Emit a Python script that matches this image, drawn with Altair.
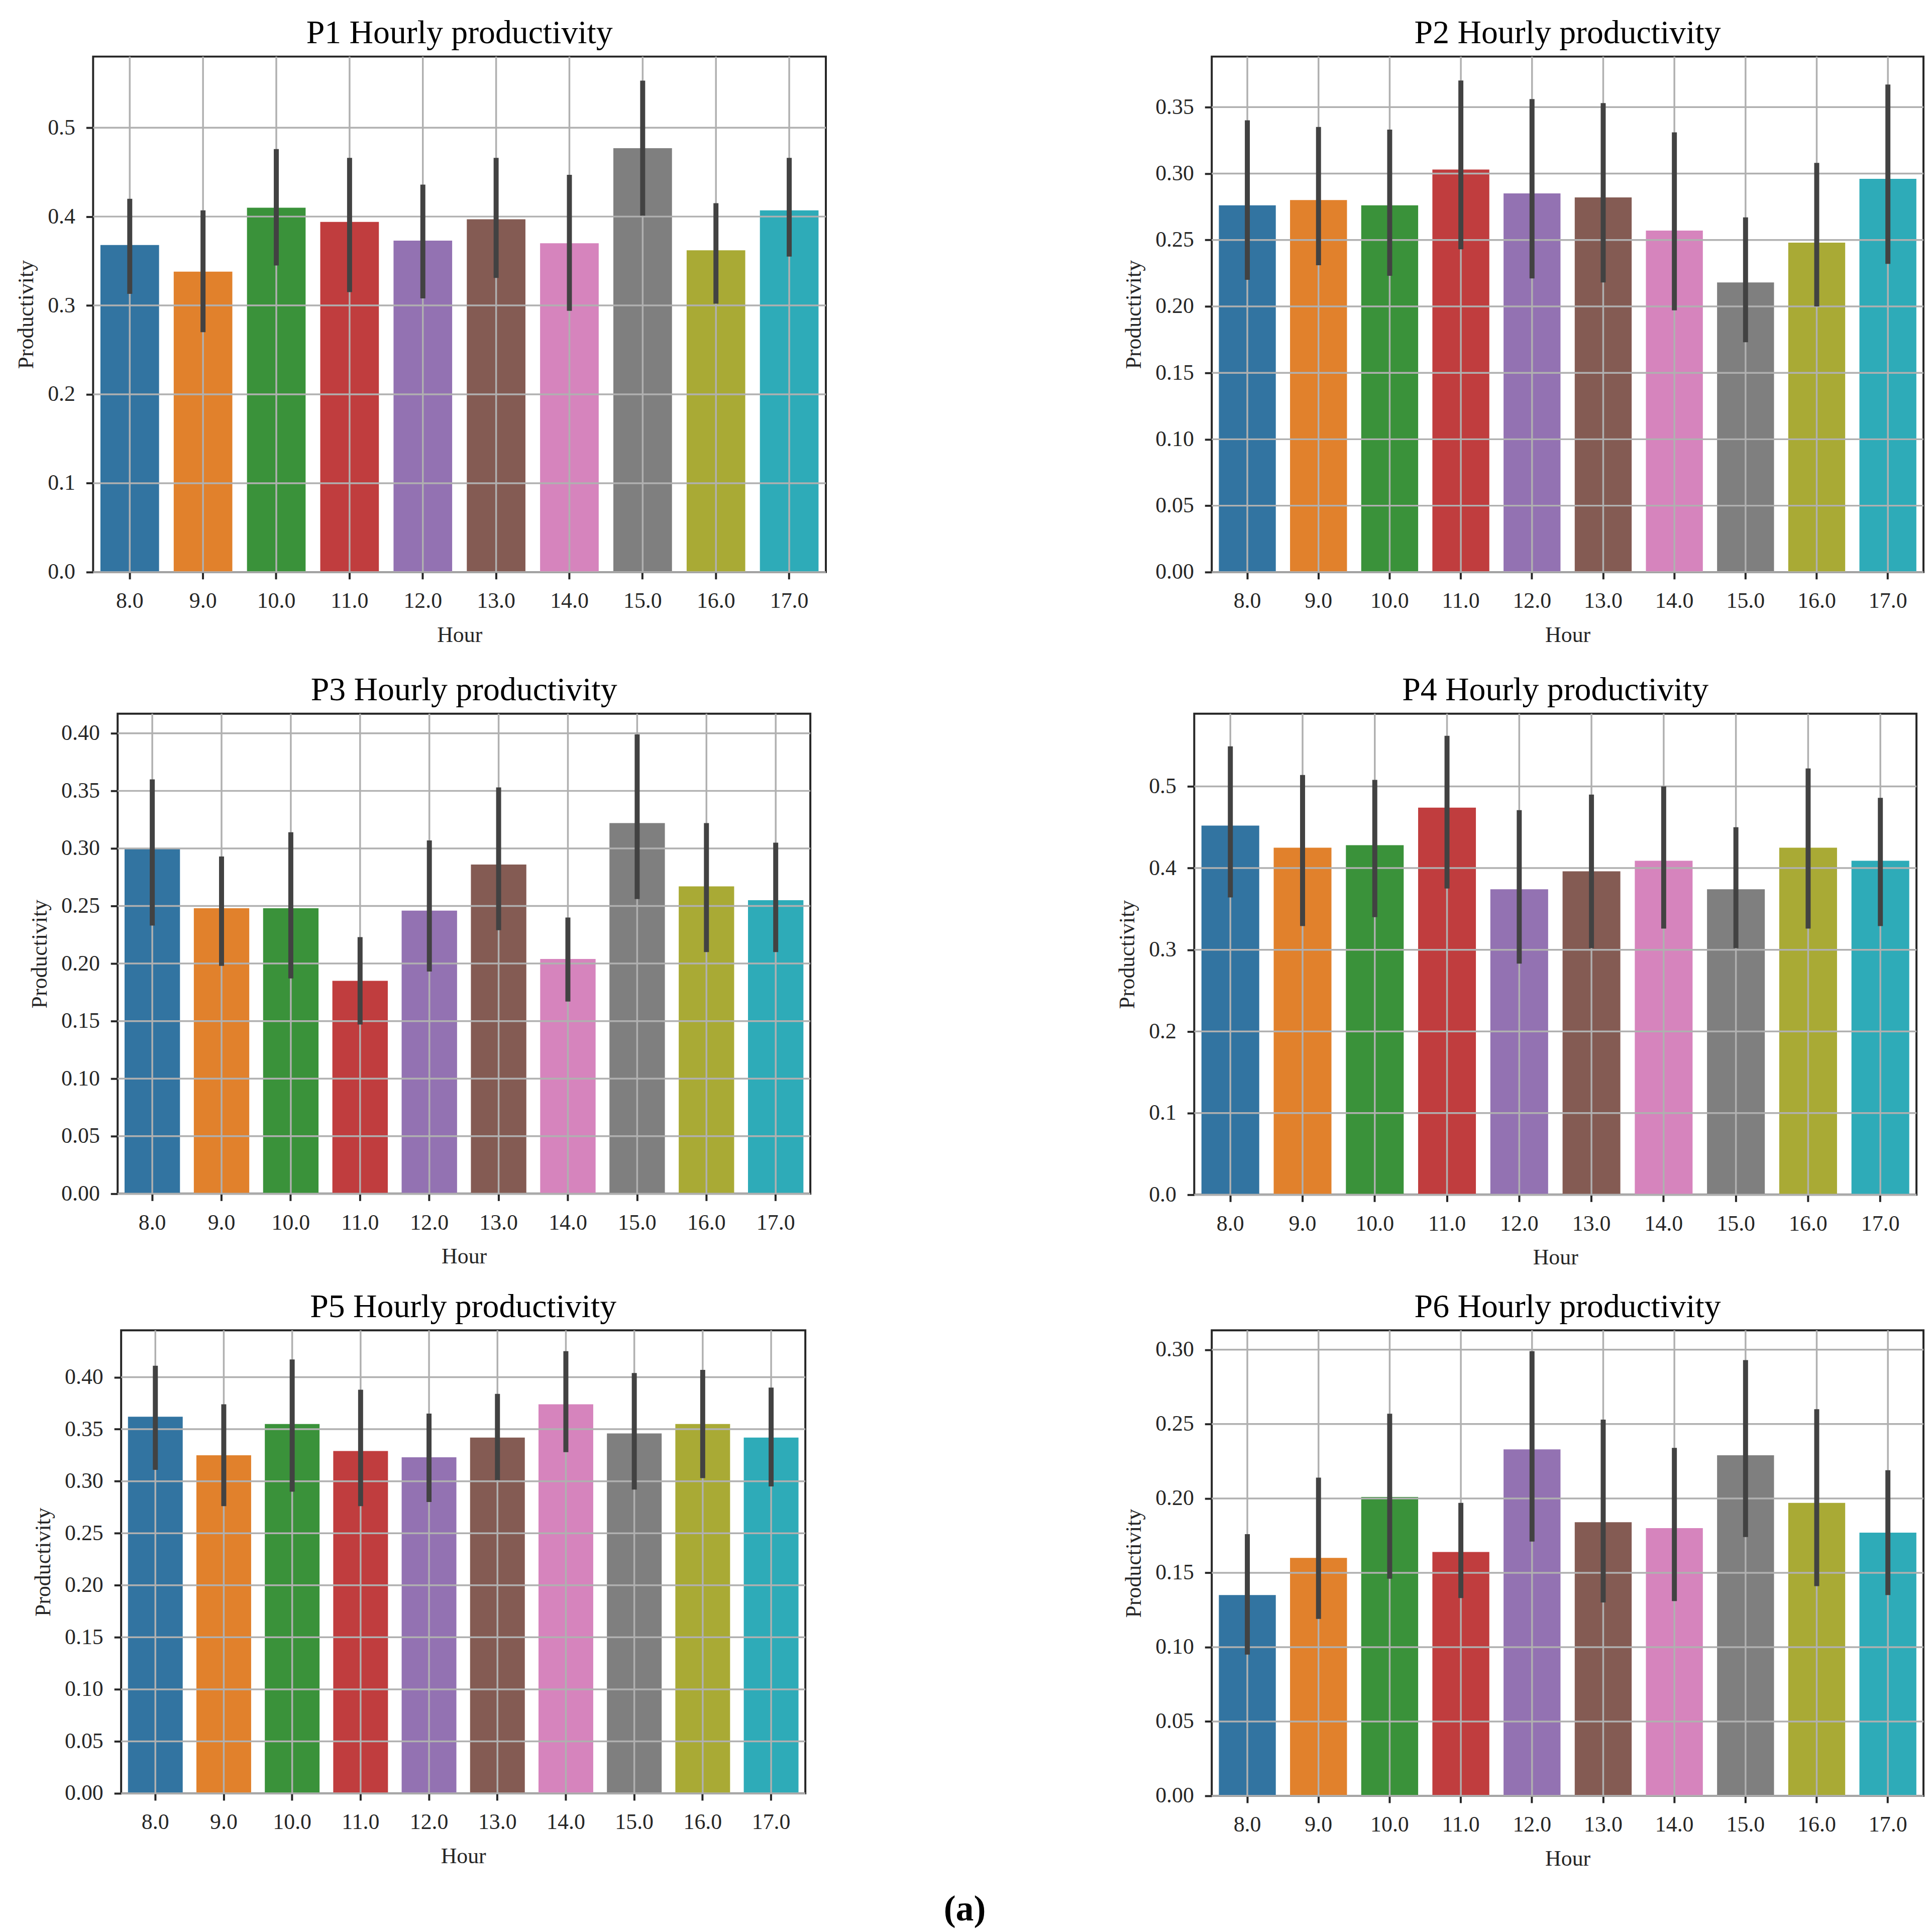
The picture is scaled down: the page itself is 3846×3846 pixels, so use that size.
import altair as alt
import pandas as pd

# categories and colours
hours = ["8.0", "9.0", "10.0", "11.0", "12.0", "13.0", "14.0", "15.0", "16.0", "17.0"]
palette = ["#3274a1", "#e1812c", "#3a923a", "#c03d3e", "#9372b2",
           "#845b53", "#d684bd", "#7f7f7f", "#a9aa35", "#2eabb8"]

# P1
p1_mean = [0.368, 0.338, 0.410, 0.394, 0.373, 0.397, 0.370, 0.477, 0.362, 0.407]
p1_low = [0.313, 0.270, 0.345, 0.315, 0.308, 0.331, 0.294, 0.401, 0.302, 0.355]
p1_high = [0.420, 0.407, 0.476, 0.466, 0.436, 0.466, 0.447, 0.553, 0.415, 0.466]
p1_ticks = [0.0, 0.1, 0.2, 0.3, 0.4, 0.5]
p1_top = 0.580

# P2
p2_mean = [0.276, 0.280, 0.276, 0.303, 0.285, 0.282, 0.257, 0.218, 0.248, 0.296]
p2_low = [0.220, 0.231, 0.223, 0.243, 0.221, 0.218, 0.197, 0.173, 0.200, 0.232]
p2_high = [0.340, 0.335, 0.333, 0.370, 0.356, 0.353, 0.331, 0.267, 0.308, 0.367]
p2_ticks = [0.0, 0.05, 0.10, 0.15, 0.20, 0.25, 0.30, 0.35]
p2_top = 0.388

# P3
p3_mean = [0.300, 0.248, 0.248, 0.185, 0.246, 0.286, 0.204, 0.322, 0.267, 0.255]
p3_low = [0.233, 0.198, 0.187, 0.147, 0.193, 0.229, 0.167, 0.256, 0.210, 0.210]
p3_high = [0.360, 0.293, 0.314, 0.223, 0.307, 0.353, 0.240, 0.399, 0.322, 0.305]
p3_ticks = [0.0, 0.05, 0.10, 0.15, 0.20, 0.25, 0.30, 0.35, 0.40]
p3_top = 0.417

# P4
p4_mean = [0.452, 0.425, 0.428, 0.474, 0.374, 0.396, 0.409, 0.374, 0.425, 0.409]
p4_low = [0.364, 0.329, 0.340, 0.375, 0.283, 0.302, 0.326, 0.302, 0.326, 0.329]
p4_high = [0.549, 0.514, 0.508, 0.562, 0.471, 0.490, 0.500, 0.450, 0.522, 0.486]
p4_ticks = [0.0, 0.1, 0.2, 0.3, 0.4, 0.5]
p4_top = 0.589

# P5
p5_mean = [0.362, 0.325, 0.355, 0.329, 0.323, 0.342, 0.374, 0.346, 0.355, 0.342]
p5_low = [0.311, 0.276, 0.290, 0.276, 0.280, 0.301, 0.328, 0.292, 0.303, 0.295]
p5_high = [0.411, 0.374, 0.417, 0.388, 0.365, 0.384, 0.425, 0.404, 0.407, 0.390]
p5_ticks = [0.0, 0.05, 0.10, 0.15, 0.20, 0.25, 0.30, 0.35, 0.40]
p5_top = 0.445

# P6
p6_mean = [0.135, 0.160, 0.201, 0.164, 0.233, 0.184, 0.180, 0.229, 0.197, 0.177]
p6_low = [0.095, 0.119, 0.146, 0.133, 0.171, 0.130, 0.131, 0.174, 0.141, 0.135]
p6_high = [0.176, 0.214, 0.257, 0.197, 0.299, 0.253, 0.234, 0.293, 0.260, 0.219]
p6_ticks = [0.0, 0.05, 0.10, 0.15, 0.20, 0.25, 0.30]
p6_top = 0.313

FONT = "Liberation Serif"
GRID = "#b0b0b0"
INK = "#262626"


def panel(name, mean, low, high, ticks, top, fmt, w, h):
    df = pd.DataFrame({"Hour": hours, "Productivity": mean, "low": low, "high": high})
    xscale = alt.Scale(domain=hours, paddingInner=0.2, paddingOuter=0.1)
    yscale = alt.Scale(domain=[0, top], nice=False, zero=True)
    xaxis = alt.Axis(labelAngle=0, grid=False, domain=False, tickSize=14, tickWidth=4,
                     tickColor=INK, labelPadding=22, titlePadding=24)
    yaxis = alt.Axis(values=ticks, format=fmt, grid=False, domain=False, tickSize=14,
                     tickWidth=4, tickColor=INK, labelPadding=22, titlePadding=20)
    x = alt.X("Hour:N", sort=hours, scale=xscale, axis=xaxis, title="Hour")

    base = alt.Chart(df)
    bars = base.mark_bar().encode(
        x=x,
        y=alt.Y("Productivity:Q", scale=yscale, axis=yaxis, title="Productivity"),
        color=alt.Color("Hour:N", sort=hours,
                        scale=alt.Scale(domain=hours, range=palette), legend=None),
    )
    # grid drawn over the bars but under the error bars
    vgrid = base.mark_rule(color=GRID, strokeWidth=3.5).encode(x=x)
    hgrid = alt.Chart(pd.DataFrame({"tick": ticks})).mark_rule(
        color=GRID, strokeWidth=3.5
    ).encode(y=alt.Y("tick:Q", scale=yscale, axis=yaxis, title="Productivity"))
    err = base.mark_rule(color="#424242", strokeWidth=10).encode(
        x=x,
        y=alt.Y("low:Q", scale=yscale, axis=yaxis, title="Productivity"),
        y2="high:Q",
    )
    return alt.layer(bars, vgrid, hgrid, err).properties(
        width=w, height=h,
        title=alt.TitleParams(name + " Hourly productivity", fontSize=66, font=FONT,
                              fontWeight="normal", color="black", offset=11,
                              frame="group", anchor="middle"),
    )


def spacer():
    # empty 1px view, only used to push a row to the right
    return alt.Chart(pd.DataFrame({"v": [0]})).mark_point(opacity=0).properties(
        width=1, height=1, view=alt.ViewBackground(stroke="transparent")
    )


def row(left, right, indent, gap):
    pair = alt.hconcat(left, right, spacing=gap)
    return alt.hconcat(spacer(), pair, spacing=indent)


c1 = panel("P1", p1_mean, p1_low, p1_high, p1_ticks, p1_top, ".1f", 1464, 1030)
c2 = panel("P2", p2_mean, p2_low, p2_high, p2_ticks, p2_top, ".2f", 1422, 1030)
c3 = panel("P3", p3_mean, p3_low, p3_high, p3_ticks, p3_top, ".2f", 1384, 959)
c4 = panel("P4", p4_mean, p4_low, p4_high, p4_ticks, p4_top, ".1f", 1443, 961)
c5 = panel("P5", p5_mean, p5_low, p5_high, p5_ticks, p5_top, ".2f", 1367, 925)
c6 = panel("P6", p6_mean, p6_low, p6_high, p6_ticks, p6_top, ".2f", 1422, 930)

upper = alt.vconcat(row(c1, c2, 14, 588), row(c3, c4, 41, 606), spacing=51)
chart = alt.vconcat(upper, row(c5, c6, 48, 629), spacing=39).properties(
    title=alt.TitleParams("(a)", orient="bottom", fontSize=72, font=FONT,
                          fontWeight="bold", color="black", offset=42, anchor="middle"),
    padding={"left": 0, "top": 16, "right": 5, "bottom": 0},
).configure_view(
    stroke=INK, strokeWidth=4
).configure_axis(
    labelFont=FONT, titleFont=FONT, labelFontSize=44, titleFontSize=44,
    labelColor=INK, titleColor=INK, titleFontWeight="normal"
)

chart.save("out.html", embed_options={"renderer": "svg", "actions": False})
